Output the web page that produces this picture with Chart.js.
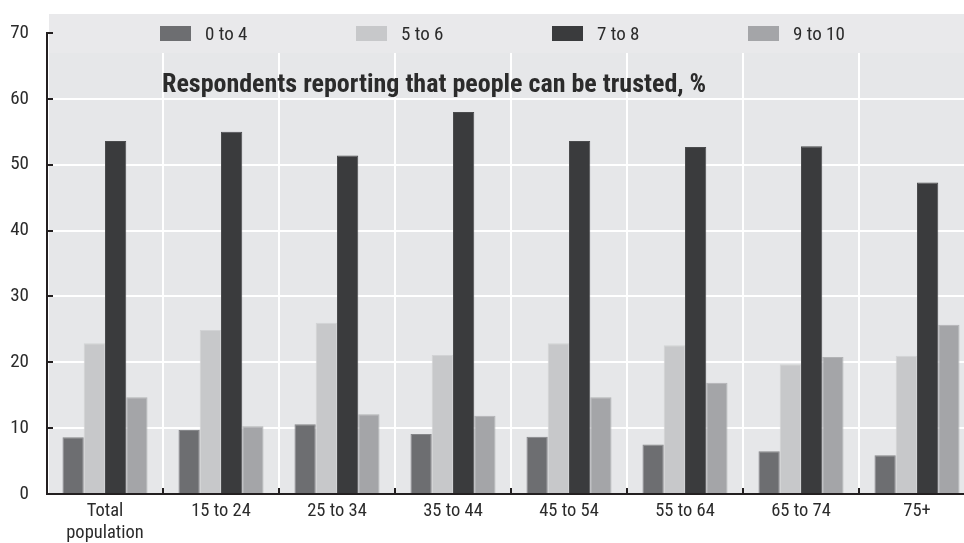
<!DOCTYPE html>
<html>
<head>
<meta charset="utf-8">
<script src="https://cdn.jsdelivr.net/npm/chart.js@4/dist/chart.umd.min.js"></script>
<style>
    html, body { margin: 0; padding: 0; background: #ffffff; overflow: hidden; }
    #chart { display: block; }
</style>
</head>
<body>
<canvas id="chart" width="980" height="543"></canvas>
<script>
// Data
const categories = [['Total', 'population'], '15 to 24', '25 to 34', '35 to 44', '45 to 54', '55 to 64', '65 to 74', '75+'];
const seriesLabels = ['0 to 4', '5 to 6', '7 to 8', '9 to 10'];
const score0to4 = [8.6, 9.7, 10.6, 9.1, 8.7, 7.5, 6.5, 5.9];
const score5to6 = [22.9, 24.9, 26.0, 21.1, 22.9, 22.6, 19.7, 21.0];
const score7to8 = [53.6, 55.0, 51.4, 58.0, 53.6, 52.7, 52.8, 47.3];
const score9to10 = [14.7, 10.3, 12.1, 11.9, 14.7, 16.9, 20.8, 25.7];
const yTicks = [0, 10, 20, 30, 40, 50, 60, 70];
const chartTitle = 'Respondents reporting that people can be trusted, %';

// Roboto has a width axis, so "condensed" gives a narrow face
const fontFamily = "Roboto, 'Liberation Sans', Arial, sans-serif";
const textColor = '#2b2b2b';
const axisColor = '#231f20';
const colors = ['#6d6e71', '#c7c8ca', '#3a3b3d', '#a4a5a8'];
const edgeColors = ['#858689', '#d2d3d5', '#4a4b4d', '#b2b3b5'];

const seriesValues = [score0to4, score5to6, score7to8, score9to10];

const decorPlugin = {
    id: 'decor',
    beforeDraw: function(chart) {
        const ctx = chart.ctx;
        const area = chart.chartArea;
        ctx.save();
        ctx.fillStyle = '#ffffff';
        ctx.fillRect(0, 0, chart.width, chart.height);
        ctx.fillStyle = '#e6e7e9';
        ctx.fillRect(area.left + 2, 14, chart.width - area.left - 2, area.bottom - 14);
        ctx.restore();
    },
    beforeDatasetsDraw: function(chart) {
        const ctx = chart.ctx;
        const area = chart.chartArea;
        ctx.save();
        // legend band hides the top of the grid
        ctx.fillStyle = '#e9e9eb';
        ctx.fillRect(area.left + 2, 14, chart.width - area.left - 2, 39);

        ctx.font = 'condensed 19px ' + fontFamily;
        ctx.textBaseline = 'alphabetic';
        ctx.textAlign = 'left';
        chart.data.datasets.forEach(function(ds, i) {
            var x = 160 + 196 * i;
            ctx.fillStyle = ds.backgroundColor;
            ctx.fillRect(x, 26, 31, 15);
            ctx.fillStyle = textColor;
            ctx.fillText(ds.label, x + 45, 40);
        });

        ctx.font = 'bold condensed 26px ' + fontFamily;
        ctx.fillStyle = textColor;
        ctx.fillText(chartTitle, 162, 92);
        ctx.restore();
    },
    afterDraw: function(chart) {
        // short inward tick marks on both axes
        const ctx = chart.ctx;
        const area = chart.chartArea;
        const xScale = chart.scales.x;
        const yScale = chart.scales.y;
        ctx.save();
        ctx.strokeStyle = axisColor;
        ctx.lineWidth = 2;
        ctx.beginPath();
        yTicks.forEach(function(v) {
            var y = Math.round(yScale.getPixelForValue(v));
            ctx.moveTo(area.left, y);
            ctx.lineTo(area.left + 6, y);
        });
        var step = xScale.getPixelForValue(1) - xScale.getPixelForValue(0);
        for (var i = 1; i < categories.length; i++) {
            var x = Math.round(xScale.getPixelForValue(i) - step / 2);
            ctx.moveTo(x, area.bottom);
            ctx.lineTo(x, area.bottom - 6);
        }
        ctx.stroke();
        ctx.restore();
    }
};

const ctx = document.getElementById('chart').getContext('2d');
const chart = new Chart(ctx, {
    type: 'bar',
    data: {
        labels: categories,
        datasets: seriesLabels.map(function(label, i) {
            return {
                label: label,
                data: seriesValues[i],
                backgroundColor: colors[i],
                borderColor: edgeColors[i],
                borderWidth: 1,
                borderSkipped: 'bottom',
                categoryPercentage: 0.733,
                barPercentage: 1.0
            };
        })
    },
    options: {
        responsive: false,
        animation: false,
        layout: { padding: { top: 33, right: 5, left: 0, bottom: 0 } },
        plugins: {
            legend: { display: false },
            title: { display: false },
            tooltip: { enabled: false }
        },
        scales: {
            x: {
                offset: true,
                grid: { offset: true, color: '#ffffff', lineWidth: 2, drawTicks: false },
                border: { display: true, color: axisColor, width: 2 },
                ticks: {
                    color: textColor,
                    padding: 6,
                    maxRotation: 0,
                    autoSkip: false,
                    font: { family: fontFamily, size: 18.5, weight: 'condensed', lineHeight: 1.2 }
                },
                afterFit: function(scale) { scale.height = 49; }
            },
            y: {
                min: 0,
                max: 70,
                grid: { color: '#ffffff', lineWidth: 2, drawTicks: false },
                border: { display: true, color: axisColor, width: 2 },
                ticks: {
                    stepSize: 10,
                    color: textColor,
                    padding: 18,
                    font: { family: fontFamily, size: 19, weight: 'condensed' }
                },
                afterFit: function(scale) { scale.width = 47; }
            }
        }
    },
    plugins: [decorPlugin]
});
</script>
</body>
</html>
